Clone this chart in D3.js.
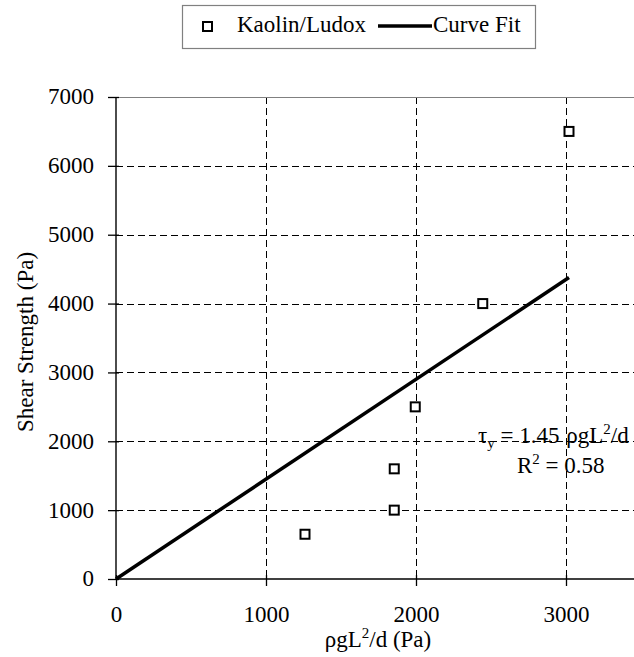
<!DOCTYPE html>
<html>
<head>
<meta charset="utf-8">
<script src="https://cdn.jsdelivr.net/npm/d3@7"></script>
<style>
  body { margin: 0; background: #fff; }
  svg { display: block; }
  text { font-family: "Liberation Serif", "Times New Roman", Times, serif; fill: #000; }
</style>
</head>
<body>
<svg id="chart" width="634" height="657" font-family="Liberation Serif, Times New Roman, serif"></svg>
<script>
// Measured data: shear strength vs. rho*g*L^2/d
const seriesName = "Kaolin/Ludox";
const fitName = "Curve Fit";
const xValues = [1260, 1855, 1855, 1995, 2445, 3020];
const yValues = [650, 1600, 1000, 2500, 4000, 6500];
const fitSlope = 1.45;
const rSquared = 0.58;
const xTicks = [0, 1000, 2000, 3000];
const yTicks = [0, 1000, 2000, 3000, 4000, 5000, 6000, 7000];
const xDomain = [0, 3500];
const yDomain = [0, 7000];

const svg = d3.select("#chart");
const FONT = 23;
const SERIF = "Liberation Serif, Times New Roman, serif";

const x = d3.scaleLinear().domain(xDomain).range([116, 641]);
const y = d3.scaleLinear().domain(yDomain).range([579, 97]);

const points = xValues.map((v, i) => ({ x: v, y: yValues[i] }));
const xMax = d3.max(xValues);
const fit = [{ x: 0, y: 0 }, { x: xMax, y: fitSlope * xMax }];

// dashed gridlines
const grid = svg.append("g").attr("stroke", "#000").attr("stroke-width", 1)
  .attr("stroke-dasharray", "7,4").attr("fill", "none");
grid.selectAll("line.h").data(yTicks.filter(t => t > 0 && t < yDomain[1])).join("line")
  .attr("class", "h")
  .attr("x1", x(0)).attr("x2", x(xDomain[1]))
  .attr("y1", d => Math.round(y(d)) + 0.5).attr("y2", d => Math.round(y(d)) + 0.5);
grid.selectAll("line.v").data(xTicks.filter(t => t > 0)).join("line")
  .attr("class", "v")
  .attr("x1", d => Math.round(x(d)) + 0.5).attr("x2", d => Math.round(x(d)) + 0.5)
  .attr("y1", y(yDomain[1])).attr("y2", y(0));

// plot area frame (top edge)
svg.append("line")
  .attr("x1", x(0)).attr("x2", x(xDomain[1]))
  .attr("y1", Math.round(y(yDomain[1])) + 0.5).attr("y2", Math.round(y(yDomain[1])) + 0.5)
  .attr("stroke", "#808080").attr("stroke-width", 1.2);

// fitted line
svg.append("path")
  .datum(fit)
  .attr("d", d3.line().x(d => x(d.x)).y(d => y(d.y)))
  .attr("stroke", "#000").attr("stroke-width", 3.5).attr("fill", "none");

// markers
const MS = 9;
svg.append("g").selectAll("rect").data(points).join("rect")
  .attr("x", d => x(d.x) - MS / 2).attr("y", d => y(d.y) - MS / 2)
  .attr("width", MS).attr("height", MS)
  .attr("fill", "#fff").attr("stroke", "#000").attr("stroke-width", 2);

// axes
const xAxis = svg.append("g").attr("transform", `translate(0,${y(0)})`)
  .call(d3.axisBottom(x).tickValues(xTicks).tickSize(7).tickFormat(d3.format("d")));
xAxis.attr("font-family", SERIF).attr("font-size", FONT);
xAxis.select(".domain").remove();
xAxis.selectAll(".tick line").attr("y1", -4).attr("stroke-width", 1.3);
xAxis.selectAll(".tick text").attr("y", 43).attr("dy", null).attr("fill", "#000");

const yAxis = svg.append("g").attr("transform", `translate(${x(0)},0)`)
  .call(d3.axisLeft(y).tickValues(yTicks).tickSize(8).tickFormat(d3.format("d")));
yAxis.attr("font-family", SERIF).attr("font-size", FONT);
yAxis.select(".domain").remove();
yAxis.selectAll(".tick line").attr("x1", 3).attr("stroke-width", 1.3);
yAxis.selectAll(".tick text").attr("x", -22).attr("dy", "0.3em").attr("fill", "#000");

svg.append("line").attr("x1", x(0)).attr("x2", x(0)).attr("y1", y(yDomain[1])).attr("y2", y(0))
  .attr("stroke", "#000").attr("stroke-width", 1.4);
svg.append("line").attr("x1", x(0)).attr("x2", x(xDomain[1])).attr("y1", y(0)).attr("y2", y(0))
  .attr("stroke", "#000").attr("stroke-width", 1.4);

// axis titles
const xt = svg.append("text").attr("x", 378).attr("y", 647).attr("text-anchor", "middle")
  .attr("fill", "#000").style("font-size", FONT + "px");
xt.append("tspan").text("\u03C1gL");
xt.append("tspan").attr("dy", -9).style("font-size", "15px").text("2");
xt.append("tspan").attr("dy", 9).text("/d (Pa)");

svg.append("text")
  .attr("transform", `translate(33,342) rotate(-90)`)
  .attr("text-anchor", "middle")
  .attr("fill", "#000")
  .style("font-size", FONT + "px")
  .text("Shear Strength (Pa)");

// fit equation
const eq = svg.append("text").attr("x", 478).attr("y", 443).attr("fill", "#000")
  .style("font-size", FONT + "px");
eq.append("tspan").text("\u03C4");
eq.append("tspan").attr("dy", 5).style("font-size", "15px").text("y");
eq.append("tspan").attr("dy", -5).text(` = ${fitSlope.toFixed(2)} `);
eq.append("tspan").attr("dx", 1).text("\u03C1gL");
eq.append("tspan").attr("dy", -9).style("font-size", "15px").text("2");
eq.append("tspan").attr("dy", 9).text("/d");

const r2 = svg.append("text").attr("x", 517).attr("y", 473).attr("fill", "#000")
  .style("font-size", FONT + "px");
r2.append("tspan").text("R");
r2.append("tspan").attr("dy", -9).style("font-size", "15px").text("2");
r2.append("tspan").attr("dy", 9).text(` = ${rSquared.toFixed(2)}`);

// legend
const lg = svg.append("g");
lg.append("rect").attr("x", 182.5).attr("y", 5.5).attr("width", 353).attr("height", 43)
  .attr("fill", "#fff").attr("stroke", "#808080").attr("stroke-width", 1.2);
lg.append("rect").attr("x", 203).attr("y", 22).attr("width", 9).attr("height", 9)
  .attr("fill", "#fff").attr("stroke", "#000").attr("stroke-width", 2);
lg.append("text").attr("x", 237).attr("y", 32).attr("fill", "#000")
  .style("font-size", FONT + "px").text(seriesName);
lg.append("line").attr("x1", 378).attr("x2", 432).attr("y1", 26).attr("y2", 26)
  .attr("stroke", "#000").attr("stroke-width", 3.5);
lg.append("text").attr("x", 433).attr("y", 32).attr("fill", "#000")
  .style("font-size", FONT + "px").text(fitName);
</script>
</body>
</html>
